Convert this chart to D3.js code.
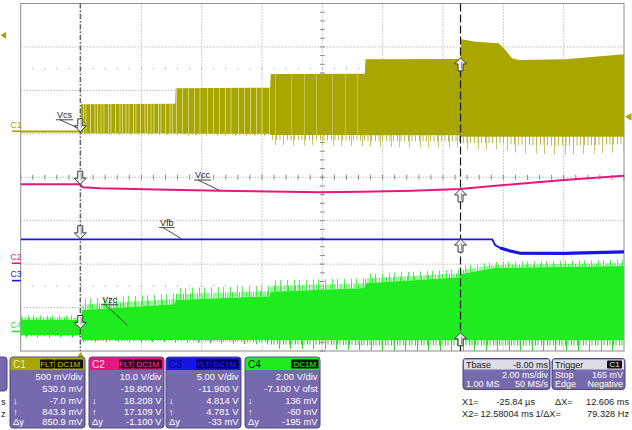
<!DOCTYPE html>
<html><head><meta charset="utf-8">
<script src="https://cdn.jsdelivr.net/npm/d3@7/dist/d3.min.js"></script>
<style>html,body{margin:0;padding:0;background:#fff}svg{display:block}</style>
</head><body><svg id="chart" width="632" height="430"></svg>
<script>
// ---------------- DATA ----------------
const timeDomain = [-2, 18];            // ms, 2 ms/div
const divDomain = [-4, 4];
const xGridTimes = [0, 2, 4, 6, 8, 10, 12, 14, 16];
const yGridDivs = [-3, -2, -1, 0, 1, 2, 3];
const dotRowDivs = [2.5, -2.5];

const chNames = ["C1", "C2", "C3", "C4"];
const chColors = ["#a9a600", "#e8177d", "#1616e0", "#1eec1e"];
const chVdiv = [0.5, 10, 5, 2];
const chOffset = [0.53, -19.8, -11.9, -7.1];

// C1 (Vcs) envelope, volts
const c1T      = [-2, -0.03, 0.0, 3.12, 3.14, 6.27, 6.29, 9.41, 9.43, 12.57, 12.6, 13.08, 13.85, 14.07, 14.29, 14.51, 16.05, 18];
const c1Top    = [0.008, 0.008, 0.31, 0.315, 0.494, 0.5, 0.658, 0.662, 0.828, 0.83, 1.058, 1.03, 1.012, 0.935, 0.839, 0.82, 0.828, 0.885];
const c1Bottom = [-0.014, -0.014, -0.024, -0.024, -0.026, -0.03, -0.044, -0.044, -0.046, -0.046, -0.063, -0.063, -0.063, -0.063, -0.063, -0.063, -0.063, -0.063];
const c1SpikeLo= [-0.02, -0.02, -0.04, -0.045, -0.05, -0.06, -0.16, -0.17, -0.18, -0.19, -0.21, -0.21, -0.21, -0.22, -0.24, -0.25, -0.27, -0.24];

// C2 (Vcc), volts
const c2T = [-2, -0.03, 0.05, 0.63, 2.5, 4.61, 7.92, 9.31, 10.97, 12.56, 14.02, 16.01, 18];
const c2V = [18.21, 18.21, 17.5, 17.25, 17.0, 16.7, 16.34, 16.45, 16.7, 17.1, 18.02, 19.17, 20.16];

// C3 (Vfb), volts
const c3T = [-2, 13.63, 13.73, 13.9, 14.23, 14.56, 16.0, 18];
const c3V = [4.76, 4.76, 4.1, 3.75, 3.41, 3.15, 3.13, 3.3];

// C4 (Vzc) envelope, volts
const c4T       = [-2, -0.03, 0.05, 3.1, 3.14, 6.25, 6.29, 9.39, 9.43, 12.56, 12.6, 13.7, 18];
const c4Top     = [0.53, 0.53, 0.99, 1.25, 1.45, 1.62, 1.83, 2.0, 2.22, 2.5, 2.65, 2.92, 3.01];
const c4Bottom  = [-0.16, -0.16, -0.39, -0.39, -0.39, -0.39, -0.4, -0.4, -0.4, -0.4, -0.4, -0.4, -0.4];
const c4SpikeHi = [0.75, 0.75, 1.5, 1.75, 2.0, 2.1, 2.35, 2.45, 2.65, 2.85, 3.0, 3.2, 3.3];
const c4SpikeLo = [-0.28, -0.28, -0.5, -0.5, -0.52, -0.6, -0.8, -0.85, -0.9, -0.9, -0.9, -0.9, -0.9];

// cursors
const cursorTimes = [-0.02584, 12.58004];
const cursorX1Vals = [-0.007, 18.208, 4.814, 0.136];
const cursorX2Vals = [0.8439, 17.109, 4.781, -0.060];
const trigLevel = 0.165;
const refMarkerDiv = 3.27;

// annotations: label, channel, time, value
const annLabels = ["Vcs", "Vcc", "Vfb", "Vzc"];
const annChannel = [0, 1, 2, 3];
const annTime = [-0.1, 4.61, 3.35, 1.53];
const annValue = [0.037, 16.7, 4.76, 0.30];

// panel texts
const vdivLabels = ["500 mV/div", "10.0 V/div", "5.00 V/div", "2.00 V/div"];
const offsetLabels = ["530.0 mV", "-19.800 V", "-11.900 V", "-7.100 V ofst"];
const x1Labels = ["-7.0 mV", "18.208 V", "4.814 V", "136 mV"];
const x2Labels = ["843.9 mV", "17.109 V", "4.781 V", "-60 mV"];
const dyLabels = ["850.9 mV", "-1.100 V", "-33 mV", "-195 mV"];
const hasFlt = [true, true, true, false];
const tbaseLabels = ["Tbase", "-8.00 ms", "2.00 ms/div", "1.00 MS", "50 MS/s"];
const trigLabels = ["Trigger", "C1", "Stop", "165 mV", "Edge", "Negative"];
const cursorLabels = ["X1=", "-25.84 µs", "ΔX=", "12.606 ms", "X2=", "12.58004 ms", "1/ΔX=", "79.328 Hz"];

// ---------------- DRAW ----------------
const svg = d3.select("#chart");
const FONT = "'Liberation Sans', Arial, sans-serif";
const PL = 20.7, PR = 624, PT = 3.5, PB = 351;
const x = d3.scaleLinear().domain(timeDomain).range([PL, PR]);
const yDiv = d3.scaleLinear().domain(divDomain).range([PB, PT]);
const yc = (i, v) => yDiv((v + chOffset[i]) / chVdiv[i]);

const defs = svg.append("defs");
defs.append("clipPath").attr("id", "plotClip").append("rect")
  .attr("x", PL).attr("y", PT).attr("width", PR - PL).attr("height", PB - PT);

function comb(id, w, lines, color, lw, op) {
  const p = defs.append("pattern").attr("id", id).attr("patternUnits", "userSpaceOnUse")
    .attr("width", w).attr("height", 8);
  lines.forEach(l => p.append("rect").attr("x", l).attr("y", 0).attr("width", lw).attr("height", 8)
    .attr("fill", color).attr("opacity", op));
}
comb("c1l1", 25, [0.5, 3.5, 8, 10.5, 15, 19.5, 22], "#e4e2a4", 0.9, 0.9);
comb("c1l2", 31, [2, 8, 13.5, 21, 27], "#e0de9c", 0.9, 0.85);
comb("c1l3", 41, [4, 17, 29], "#d8d68a", 0.9, 0.6);
comb("c1spk", 11, [1, 4.5, 8], "#bdb94c", 1, 1);
comb("c1spk2", 29, [3, 14, 22], "#c8c570", 1, 1);
comb("c4spk", 7, [1, 3.5, 5.5], "#2ef02e", 1, 1);
comb("c4spk2", 19, [2, 9, 14], "#55ee55", 1, 1);
comb("c4spkLo", 6, [1, 3.5], "#22dd22", 1, 1);
comb("c4spkLo2", 23, [3, 14], "#33d633", 1, 1);

// grid
const g = svg.append("g");
g.selectAll(".vg").data(xGridTimes).join("line")
  .attr("x1", d => x(d)).attr("x2", d => x(d)).attr("y1", PT).attr("y2", PB)
  .attr("stroke", "#9a9a9a").attr("stroke-width", 1).attr("stroke-dasharray", "1,2");
g.selectAll(".hg").data(yGridDivs).join("line")
  .attr("x1", PL).attr("x2", PR).attr("y1", d => yDiv(d)).attr("y2", d => yDiv(d))
  .attr("stroke", "#9a9a9a").attr("stroke-width", 1).attr("stroke-dasharray", "1,2");
// center ticks
const subX = d3.range(timeDomain[0], timeDomain[1] + 0.001, 0.4);
g.selectAll(".tx").data(subX).join("line")
  .attr("x1", d => x(d)).attr("x2", d => x(d)).attr("y1", yDiv(0) - 2.5).attr("y2", yDiv(0) + 2.5)
  .attr("stroke", "#8a8a8a");
const subY = d3.range(divDomain[0], divDomain[1] + 0.001, 0.2);
g.selectAll(".ty").data(subY).join("line")
  .attr("y1", d => yDiv(d)).attr("y2", d => yDiv(d)).attr("x1", x(8) - 2.5).attr("x2", x(8) + 2.5)
  .attr("stroke", "#8a8a8a");
dotRowDivs.forEach(dv => {
  g.selectAll(null).data(subX.slice(1, -1)).join("rect")
    .attr("x", d => x(d) - 0.5).attr("y", yDiv(dv) - 0.5).attr("width", 1).attr("height", 1)
    .attr("fill", "#8a8a8a");
});
// border
svg.append("rect").attr("x", PL).attr("y", PT).attr("width", PR - PL).attr("height", PB - PT)
  .attr("fill", "none").attr("stroke", "#8c8c8c").attr("stroke-width", 1);

const tr = svg.append("g").attr("clip-path", "url(#plotClip)");

function zipEnv(T, a, b) { return T.map((t, k) => ({ t, a: a[k], b: b[k] })); }
function areaFor(ch) {
  return d3.area().x(d => x(d.t)).y0(d => yc(ch, d.b)).y1(d => yc(ch, d.a));
}

// ---- C1 ----
const c1Core = zipEnv(c1T, c1Top, c1Bottom);
const c1Mid = zipEnv(c1T, c1Bottom, c1T.map((t, k) => (c1Bottom[k] + c1SpikeLo[k]) / 2));
const c1Low = zipEnv(c1T, c1Bottom, c1SpikeLo);
tr.append("path").datum(c1Low).attr("d", areaFor(0)).attr("fill", "url(#c1spk2)");
tr.append("path").datum(c1Mid).attr("d", areaFor(0)).attr("fill", "url(#c1spk)");
tr.append("path").datum(c1Core).attr("d", areaFor(0)).attr("fill", chColors[0]);
const texRanges = [[0.03, 3.12, "c1l1"], [3.14, 6.27, "c1l2"], [6.29, 9.41, "c1l3"]];
texRanges.forEach((r, k) => {
  const id = "c1clip" + k;
  defs.append("clipPath").attr("id", id).append("rect")
    .attr("x", x(r[0])).attr("y", PT).attr("width", x(r[1]) - x(r[0])).attr("height", PB - PT);
  tr.append("path").datum(c1Core).attr("d", areaFor(0)).attr("fill", `url(#${r[2]})`)
    .attr("clip-path", `url(#${id})`);
});

// ---- C2 ----
const line = (ch) => d3.line().x(d => x(d.t)).y(d => yc(ch, d.v));
tr.append("path").datum(c2T.map((t, k) => ({ t, v: c2V[k] }))).attr("d", line(1))
  .attr("fill", "none").attr("stroke", chColors[1]).attr("stroke-width", 2);

// ---- C3 ----
const c3Data = c3T.map((t, k) => ({ t, v: c3V[k] }));
tr.append("path").datum(c3Data).attr("d", line(2))
  .attr("fill", "none").attr("stroke", chColors[2]).attr("stroke-width", 1.8);
tr.append("path").datum(c3Data.filter(d => d.t >= 13.9)).attr("d", line(2))
  .attr("fill", "none").attr("stroke", chColors[2]).attr("stroke-width", 3.2);

// ---- C4 ----
const c4Core = zipEnv(c4T, c4Top, c4Bottom);
const c4HiMid = zipEnv(c4T, c4T.map((t, k) => (c4Top[k] + c4SpikeHi[k]) / 2), c4Top);
const c4Hi = zipEnv(c4T, c4SpikeHi, c4Top);
const c4LoMid = zipEnv(c4T, c4Bottom, c4T.map((t, k) => (c4Bottom[k] + c4SpikeLo[k]) / 2));
const c4Lo = zipEnv(c4T, c4Bottom, c4SpikeLo);
tr.append("path").datum(c4Hi).attr("d", areaFor(3)).attr("fill", "url(#c4spk2)");
tr.append("path").datum(c4HiMid).attr("d", areaFor(3)).attr("fill", "url(#c4spk)");
tr.append("path").datum(c4Lo).attr("d", areaFor(3)).attr("fill", "url(#c4spkLo2)");
tr.append("path").datum(c4LoMid).attr("d", areaFor(3)).attr("fill", "url(#c4spkLo)");
tr.append("path").datum(c4Core).attr("d", areaFor(3)).attr("fill", chColors[3]);

// ---- cursors ----
svg.append("line").attr("x1", x(cursorTimes[0])).attr("x2", x(cursorTimes[0])).attr("y1", PT).attr("y2", PB)
  .attr("stroke", "#4a4a4a").attr("stroke-width", 1.2).attr("stroke-dasharray", "5,2,1.5,2");
svg.append("line").attr("x1", x(cursorTimes[1])).attr("x2", x(cursorTimes[1])).attr("y1", PT).attr("y2", PB)
  .attr("stroke", "#1a1a1a").attr("stroke-width", 1.2).attr("stroke-dasharray", "8,3");

function arrow(cx, tipY, dir) {
  const pts = [[0, 0], [-6, -6], [-2.5, -6], [-2.5, -13], [2.5, -13], [2.5, -6], [6, -6]]
    .map(p => [cx + p[0], tipY + p[1] * dir]);
  svg.append("polygon").attr("points", pts.map(p => p.join(",")).join(" "))
    .attr("fill", "#f4f4f4").attr("stroke", "#3a3a3a").attr("stroke-width", 1);
  svg.append("line").attr("x1", cx + 1).attr("x2", cx + 1)
    .attr("y1", tipY - 11.5 * dir).attr("y2", tipY - 4 * dir)
    .attr("stroke", "#9a9a9a").attr("stroke-width", 1.2);
}
cursorX1Vals.forEach((v, i) => arrow(x(cursorTimes[0]), yc(i, v), 1));
cursorX2Vals.forEach((v, i) => arrow(x(cursorTimes[1]), yc(i, v), -1));

// ---- annotations ----
const annOff = [[-21, -10], [-25, -12.5], [-22, -13.5], [-25, -22]];
annLabels.forEach((lab, k) => {
  const ex = x(annTime[k]), ey = yc(annChannel[k], annValue[k]);
  const tx = ex + annOff[k][0], ty = ey + annOff[k][1];
  const t = svg.append("text").attr("x", tx).attr("y", ty).text(lab)
    .attr("font-family", FONT).attr("font-size", 9).attr("fill", "#222");
  const w = t.node().getComputedTextLength();
  svg.append("line").attr("x1", tx - 1).attr("x2", tx + w + 1).attr("y1", ty + 1.8).attr("y2", ty + 1.8)
    .attr("stroke", "#333").attr("stroke-width", 0.9);
  svg.append("line").attr("x1", tx + 3).attr("x2", ex).attr("y1", ty + 1.8).attr("y2", ey)
    .attr("stroke", "#333").attr("stroke-width", 0.9);
});

// ---- left markers ----
chNames.forEach((n, i) => {
  const gy = yc(i, 0);
  svg.append("line").attr("x1", 12).attr("x2", PL).attr("y1", gy).attr("y2", gy)
    .attr("stroke", chColors[i]).attr("stroke-width", 1.6);
  svg.append("text").attr("x", 10.5).attr("y", gy - 3.5).text(n)
    .attr("font-family", FONT).attr("font-size", 8.5).attr("fill", chColors[i]);
});
const ry = yDiv(refMarkerDiv);
svg.append("polygon").attr("points", `0.5,${ry} 6,${ry - 3.5} 6,${ry + 3.5}`).attr("fill", chColors[0]);
const tly = yc(0, trigLevel);
svg.append("polygon").attr("points", `${PR + 1},${tly} ${PR + 7.5},${tly - 3.8} ${PR + 7.5},${tly + 3.8}`).attr("fill", chColors[0]);
const tx0 = x(0) - 0.5;
svg.append("polygon").attr("points", `${tx0 - 3.5},357.5 ${tx0 + 3.5},357.5 ${tx0},352`).attr("fill", chColors[0]);

// ---- channel panels ----
const panelX = [10, 89, 166, 245], panelW = 75;
const headTxt = ["#ecebc8", "#ffe0ee", "#00007a", "#002200"];
const boxBg = ["#111", "#3a0020", "#00005a", "#001a00"];
const boxTxt = ["#c8c400", "#ff3a9a", "#2a2aff", "#22ff22"];
chNames.forEach((n, i) => {
  const px = panelX[i], py = 357, ph = 71;
  const pg = svg.append("g").attr("font-family", FONT).attr("font-size", 9.4);
  pg.append("rect").attr("x", px).attr("y", py).attr("width", panelW).attr("height", ph).attr("rx", 3)
    .attr("fill", "#7669ae").attr("stroke", "#4c4486");
  pg.append("path").attr("d", `M${px + 0.5},${py + 13} V${py + 3} Q${px + 0.5},${py + 0.5} ${px + 3},${py + 0.5} H${px + panelW - 3} Q${px + panelW - 0.5},${py + 0.5} ${px + panelW - 0.5},${py + 3} V${py + 13} Z`)
    .attr("fill", chColors[i]);
  pg.append("text").attr("x", px + 3).attr("y", py + 10.5).text(n).attr("fill", headTxt[i]).attr("font-size", 10);
  const boxes = hasFlt[i] ? [["FLT", 30, 14], ["DC1M", 44.5, 28.5]] : [["DC1M", 46, 27.5]];
  boxes.forEach(b => {
    pg.append("rect").attr("x", px + b[1]).attr("y", py + 2.5).attr("width", b[2]).attr("height", 9).attr("rx", 1)
      .attr("fill", boxBg[i]);
    pg.append("text").attr("x", px + b[1] + b[2] / 2).attr("y", py + 10).text(b[0])
      .attr("text-anchor", "middle").attr("font-size", 8).attr("fill", boxTxt[i]);
  });
  const rows = [vdivLabels[i], offsetLabels[i], x1Labels[i], x2Labels[i], dyLabels[i]];
  const base = [380.3, 392, 403.6, 414.6, 425.3];
  rows.forEach((r, k) => pg.append("text").attr("x", px + panelW - 2.5).attr("y", base[k]).text(r)
    .attr("text-anchor", "end").attr("fill", "#fff"));
  ["↓", "↑", "Δy"].forEach((s, k) => pg.append("text").attr("x", px + 3).attr("y", base[k + 2]).text(s)
    .attr("fill", "#fff"));
});
svg.append("rect").attr("x", -10).attr("y", 357).attr("width", 17).attr("height", 34).attr("rx", 3)
  .attr("fill", "#7669ae").attr("stroke", "#4c4486");
svg.append("text").attr("x", 1).attr("y", 405).text("s").attr("font-family", FONT).attr("font-size", 9.5).attr("fill", "#222");
svg.append("text").attr("x", 1).attr("y", 416.5).text("z").attr("font-family", FONT).attr("font-size", 9.5).attr("fill", "#222");

// ---- timebase / trigger panels ----
const RB = [367.8, 377.6, 387.2];
function infoPanel(px, pw) {
  const pg = svg.append("g").attr("font-family", FONT).attr("font-size", 9);
  pg.append("rect").attr("x", px).attr("y", 358.5).attr("width", pw).attr("height", 31).attr("rx", 3)
    .attr("fill", "#7669ae").attr("stroke", "#4c4486");
  pg.append("rect").attr("x", px + 1).attr("y", 359.5).attr("width", pw - 2).attr("height", 10)
    .attr("fill", "#dcdce6");
  return pg;
}
const tb = infoPanel(463, 87);
tb.append("text").attr("x", 466).attr("y", RB[0]).text(tbaseLabels[0]).attr("fill", "#222");
tb.append("text").attr("x", 548).attr("y", RB[0]).text(tbaseLabels[1]).attr("fill", "#222").attr("text-anchor", "end");
tb.append("text").attr("x", 548).attr("y", RB[1]).text(tbaseLabels[2]).attr("fill", "#fff").attr("text-anchor", "end");
tb.append("text").attr("x", 466).attr("y", RB[2]).text(tbaseLabels[3]).attr("fill", "#fff");
tb.append("text").attr("x", 548).attr("y", RB[2]).text(tbaseLabels[4]).attr("fill", "#fff").attr("text-anchor", "end");
const tg = infoPanel(552, 73);
tg.append("text").attr("x", 555).attr("y", RB[0]).text(trigLabels[0]).attr("fill", "#222");
tg.append("rect").attr("x", 607).attr("y", 360.5).attr("width", 15).attr("height", 8).attr("rx", 1).attr("fill", "#111");
tg.append("text").attr("x", 614.5).attr("y", 367.3).text(trigLabels[1]).attr("fill", "#e8e8e8").attr("text-anchor", "middle").attr("font-size", 8);
tg.append("text").attr("x", 555).attr("y", RB[1]).text(trigLabels[2]).attr("fill", "#fff");
tg.append("text").attr("x", 623).attr("y", RB[1]).text(trigLabels[3]).attr("fill", "#fff").attr("text-anchor", "end");
tg.append("text").attr("x", 555).attr("y", RB[2]).text(trigLabels[4]).attr("fill", "#fff");
tg.append("text").attr("x", 623).attr("y", RB[2]).text(trigLabels[5]).attr("fill", "#fff").attr("text-anchor", "end");

const cg = svg.append("g").attr("font-family", FONT).attr("font-size", 9.2).attr("fill", "#222");
cg.append("text").attr("x", 462).attr("y", 404.5).text(cursorLabels[0]);
cg.append("text").attr("x", 535).attr("y", 404.5).text(cursorLabels[1]).attr("text-anchor", "end");
cg.append("text").attr("x", 555).attr("y", 404.5).text(cursorLabels[2]);
cg.append("text").attr("x", 629).attr("y", 404.5).text(cursorLabels[3]).attr("text-anchor", "end");
cg.append("text").attr("x", 462).attr("y", 416.5).text(cursorLabels[4]);
cg.append("text").attr("x", 533.5).attr("y", 416.5).text(cursorLabels[5]).attr("text-anchor", "end");
cg.append("text").attr("x", 535.5).attr("y", 416.5).text(cursorLabels[6]);
cg.append("text").attr("x", 629).attr("y", 416.5).text(cursorLabels[7]).attr("text-anchor", "end");
</script></body></html>
